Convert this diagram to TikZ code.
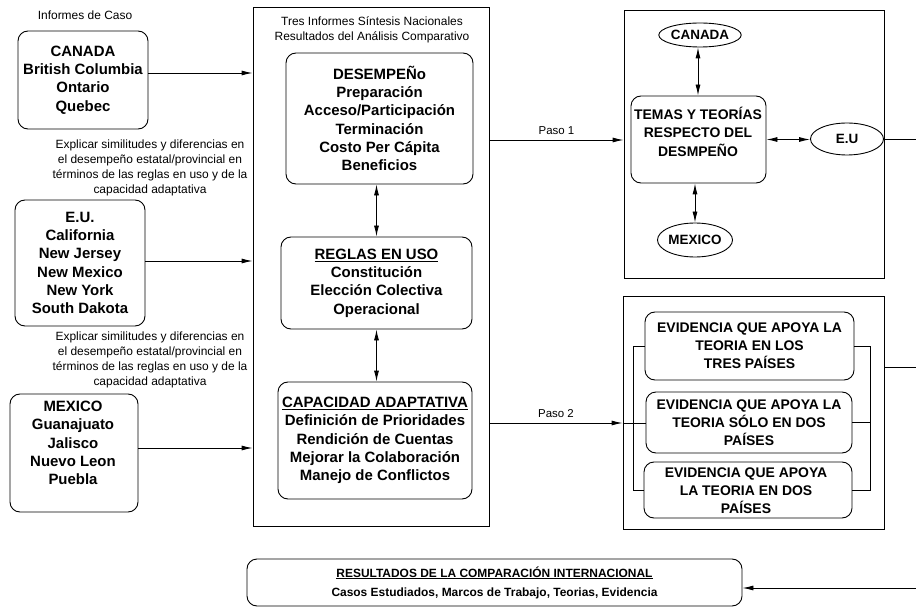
\documentclass[tikz,border=0pt]{standalone}
\usepackage{fontspec}
\setmainfont{Liberation Sans}
\usetikzlibrary{arrows.meta,shapes.geometric,calc}
\begin{document}
\begin{tikzpicture}[x=1bp,y=-1bp,
  line width=0.9bp,
  arr/.style={-{Latex[length=11bp,width=5bp]}},
  darr/.style={{Latex[length=11bp,width=5bp]}-{Latex[length=11bp,width=5bp]}},
  rbox/.style={draw, rounded corners=10bp, align=center, inner sep=0pt, font=\bfseries\fontsize{15}{18.3}\selectfont},
  btext/.style={align=center, inner sep=0pt, font=\bfseries\fontsize{15}{18.3}\selectfont},
  ebox/.style={draw, rounded corners=10bp, align=center, inner sep=0pt, font=\bfseries\fontsize{14}{18}\selectfont},
  frame/.style={draw, inner sep=0pt},
  note/.style={align=center, inner sep=0pt, font=\fontsize{12}{15}\selectfont},
  oval/.style={draw, ellipse, inner sep=0pt, font=\bfseries\fontsize{13.5}{16}\selectfont},
  paso/.style={above=1.5bp, font=\fontsize{11.5}{13}\selectfont},
]
\useasboundingbox (0,0) rectangle (916,608);

% left column
\node[note] (inf) at (85,15) {Informes de Caso};
\node[rbox, minimum width=130bp, minimum height=98bp] (canbox) at (83,80)
  {CANADA\\British Columbia\\Ontario\\Quebec};
\node[note] (exp1) at (150,168) {Explicar similitudes y diferencias en\\el desempeño estatal/provincial en\\términos de las reglas en uso y de la\\capacidad adaptativa};
\node[rbox, minimum width=130bp, minimum height=126bp] (eubox) at (80,263)
  {E.U.\\California\\New Jersey\\New Mexico\\New York\\South Dakota};
\node[note] (exp2) at (150,360) {Explicar similitudes y diferencias en\\el desempeño estatal/provincial en\\términos de las reglas en uso y de la\\capacidad adaptativa};
\node[rbox, minimum width=128bp, minimum height=118bp] (mexbox) at (74,453) {};
\node[btext] (mextext) at (73,443) {MEXICO\\Guanajuato\\Jalisco\\Nuevo Leon\\Puebla};

% main column
\node[frame, minimum width=236bp, minimum height=519bp] (main) at (371,266.5) {};
\node[note] (title) at (372,30) {Tres Informes Síntesis Nacionales\\Resultados del Análisis Comparativo};
\node[rbox, minimum width=187bp, minimum height=131bp] (des) at (379.5,118.5)
  {DESEMPEÑo\\Preparación\\Acceso/Participación\\Terminación\\Costo Per Cápita\\Beneficios};
\node[rbox, minimum width=191bp, minimum height=92bp] (reg) at (376.5,283)
  {\underline{REGLAS EN USO}\\Constitución\\Elección Colectiva\\Operacional};
\node[rbox, minimum width=194bp, minimum height=117bp] (cap) at (375,440.5)
  {\underline{CAPACIDAD ADAPTATIVA}\\Definición de Prioridades\\Rendición de Cuentas\\Mejorar la Colaboración\\Manejo de Conflictos};
\draw[darr] (reg.north |- des.south) -- (reg.north);
\draw[darr] (reg.south) -- (reg.south |- cap.north);

% arrows from countries
\coordinate (ya) at (0,73);
\coordinate (yb) at (0,261);
\coordinate (yc) at (0,448);
\draw[arr] (canbox.east |- ya) -- (main.west |- ya);
\draw[arr] (eubox.east |- yb) -- (main.west |- yb);
\draw[arr] (mexbox.east |- yc) -- (main.west |- yc);

% top right
\node[frame, minimum width=260bp, minimum height=268bp] (tr) at (754,144) {};
\node[oval, minimum width=76bp, minimum height=24bp] (coval) at (700,35) {CANADA};
\node[draw, rounded corners=10bp, inner sep=0pt, minimum width=135bp, minimum height=87bp] (temas) at (698.5,139.5) {};
\node[align=center, inner sep=0pt, font=\bfseries\fontsize{14}{18.5}\selectfont] (temastext) at (698,131.5) {TEMAS Y TEORÍAS\\RESPECTO DEL\\DESMPEÑO};
\node[oval, minimum width=73bp, minimum height=32bp] (euoval) at (847,139) {E.U};
\node[oval, minimum width=71bp, minimum height=34bp] (moval) at (695,240) {MEXICO};
\coordinate (xc) at (698,0);
\draw[darr] (coval.south -| xc) -- (temas.north -| xc);
\draw[darr] (temas.east) -- (temas.east -| euoval.west);
\draw[darr] (temas.south -| moval.north) -- (moval.north);

\coordinate (y1) at (0,140);
\draw[arr] (main.east |- y1) -- node[paso] (paso1) {Paso 1} (tr.west |- y1);
\coordinate (r1) at (916,139);
\draw (tr.east |- r1) -- (r1);

% bottom right
\node[frame, minimum width=261bp, minimum height=233bp] (br) at (753.5,412.5) {};
\node[ebox, minimum width=209bp, minimum height=68bp] (ev1) at (749.5,346)
  {EVIDENCIA QUE APOYA LA\\TEORIA EN LOS\\TRES PAÍSES};
\node[ebox, minimum width=206bp, minimum height=61bp] (ev2) at (749,422.5)
  {EVIDENCIA QUE APOYA LA\\TEORIA SÓLO EN DOS\\PAÍSES};
\node[draw, rounded corners=10bp, inner sep=0pt, minimum width=208bp, minimum height=56bp] (ev3) at (748,490) {};
\node[align=center, inner sep=0pt, font=\bfseries\fontsize{14}{18}\selectfont] (ev3text) at (746,491) {EVIDENCIA QUE APOYA\\LA TEORIA EN DOS\\PAÍSES};

\coordinate (y2) at (0,423);
\draw[arr] (main.east |- y2) -- node[paso] (paso2) {Paso 2} (br.west |- y2);
\draw (br.west |- y2) -- (ev2.west |- y2);
\coordinate (bl) at (633,0);
\coordinate (brr) at (870,0);
\draw (ev1.west) -| (bl |- ev3.west) -- (ev3.west);
\draw (ev1.east) -| (brr |- ev3.east) -- (ev3.east);
\draw (ev2.east) -- (ev2.east -| brr);
\coordinate (r2) at (916,367);
\draw (br.east |- r2) -- (r2);

% bottom result
\node[rbox, font=\bfseries\fontsize{12}{19}\selectfont, minimum width=495bp, minimum height=47bp] (res) at (494.5,582.5)
  {\underline{RESULTADOS DE LA COMPARACIÓN INTERNACIONAL}\\Casos Estudiados, Marcos de Trabajo, Teorias, Evidencia};
\coordinate (r3) at (916,588);
\draw[arr] (r3) -- (res.east |- r3);
\end{tikzpicture}
\end{document}
